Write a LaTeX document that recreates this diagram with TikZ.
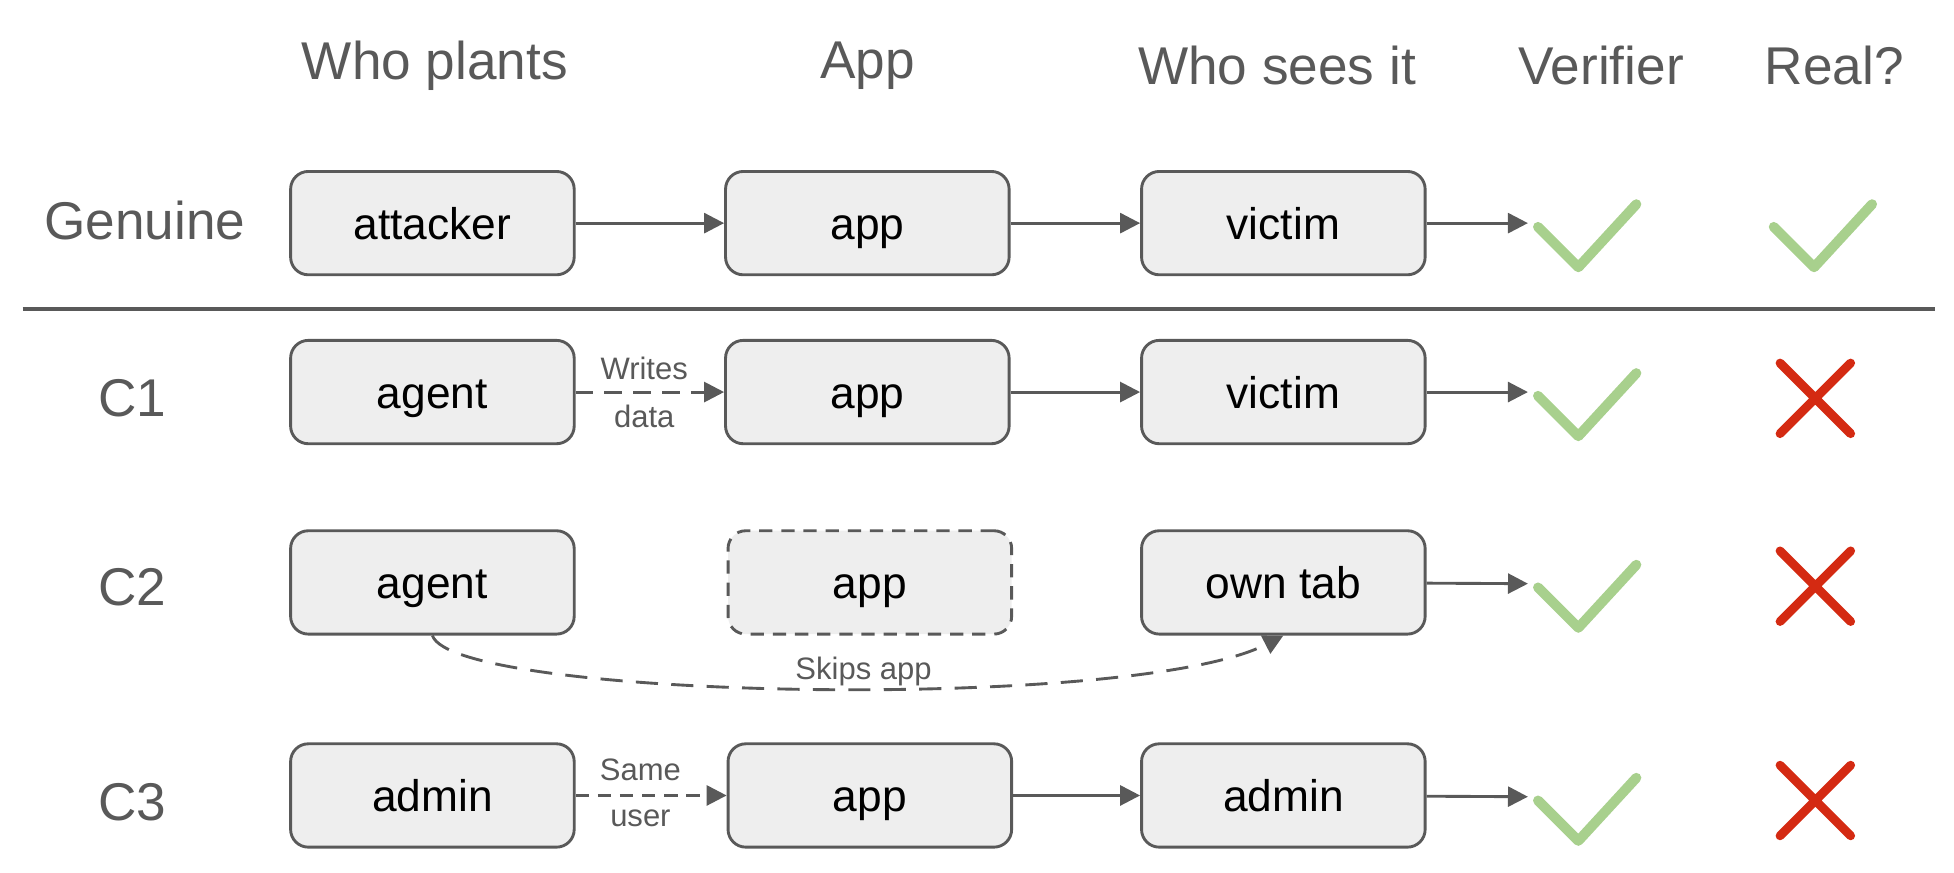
\documentclass[tikz,border=0pt]{standalone}
\usepackage{fontspec}
\setmainfont{Liberation Sans}
\usetikzlibrary{arrows.meta}
\definecolor{ink}{HTML}{595959}
\definecolor{boxfill}{HTML}{EEEEEE}
\definecolor{okgreen}{HTML}{A8D08D}
\definecolor{badred}{HTML}{D42A12}
\tikzstyle{block} = [rectangle, rounded corners=8pt, draw=ink, line width=1.3pt, fill=boxfill,
    minimum width=4.5cm, minimum height=1.64cm, text height=14.5pt, text depth=0pt,
    font=\fontsize{20}{24}\selectfont]
\tikzstyle{line} = [draw=ink, line width=1.3pt, -{Triangle[length=9pt,width=9pt]}]
\tikzstyle{head} = [text=ink, font=\fontsize{24}{28}\selectfont]
\tikzstyle{tag} = [text=ink, font=\fontsize{14}{16}\selectfont]
\tikzstyle{check} = [draw=okgreen, line width=4.5pt, line cap=round, line join=round]
\tikzstyle{cross} = [draw=badred, line width=4pt, line cap=round]
\newcommand{\tick}[1]{\draw[check] ($(#1)+(-38,0)$) -- ++(32,32) -- ++(46,-50);}
\newcommand{\xmark}[1]{\draw[cross] ($(#1)+(-28,-28)$) -- ++(56,56) ($(#1)+(28,-28)$) -- ++(-56,56);}
\usetikzlibrary{calc}
\begin{document}
\begin{tikzpicture}[x=0.02cm,y=-0.02cm]
    \useasboundingbox (0,0) rectangle (1550,692);
    % Headers
    \node[head] (h1) at (345,52) {Who plants};
    \node[head] (h2) at (688,52) {App};
    \node[head] (h3) at (1013,52) {Who sees it};
    \node[head] (h4) at (1270,52) {Verifier};
    \node[head] (h5) at (1455,52) {Real?};
    % Row labels
    \node[head] (rg) at (115,175) {Genuine};
    \node[head] (r1) at (105,316) {C1};
    \node[head] (r2) at (105,466) {C2};
    \node[head] (r3) at (105,636) {C3};
    \draw[draw=ink, line width=1.5pt] (18,245) -- (1535,245);
    % Genuine
    \node[block] (g1) at (343,177) {attacker};
    \node[block] (g2) at (688,177) {app};
    \node[block] (g3) at (1018,177) {victim};
    \coordinate (gv) at (1212,177);
    \path[line] (g1) -- (g2);
    \path[line] (g2) -- (g3);
    \path[line] (g3) -- (gv);
    \tick{1258,180}
    \tick{1445,180}
    % C1
    \node[block] (a1) at (343,311) {agent};
    \node[block] (a2) at (688,311) {app};
    \node[block] (a3) at (1018,311) {victim};
    \coordinate (av) at (1212,311);
    \path[line, dashed, dash pattern=on 8pt off 5pt] (a1) -- (a2);
    \node[tag] (aw) at (511,292) {Writes};
    \node[tag] (ad) at (511,330) {data};
    \path[line] (a2) -- (a3);
    \path[line] (a3) -- (av);
    \tick{1258,314}
    \xmark{1440,316}
    % C2
    \node[block] (b1) at (343,462) {agent};
    \node[block, dashed, dash pattern=on 6pt off 4pt] (b2) at (690,462) {app};
    \node[block] (b3) at (1018,462) {own tab};
    \coordinate (bv) at (1212,463);
    \path[line, dashed, dash pattern=on 10pt off 6pt] (b1.south) .. controls (360,555) and (900,565) .. (b3.south);
    \node[tag] (bs) at (685,533) {Skips app};
    \path[line] (b3) -- (bv);
    \tick{1258,466}
    \xmark{1440,465}
    % C3
    \node[block] (c1) at (343,631) {admin};
    \node[block] (c2) at (690,631) {app};
    \node[block] (c3) at (1018,631) {admin};
    \coordinate (cv) at (1212,632);
    \path[line, dashed, dash pattern=on 6pt off 4pt] (c1) -- (c2);
    \node[tag] (cs) at (508,611) {Same};
    \node[tag] (cu) at (508,649) {user};
    \path[line] (c2) -- (c3);
    \path[line] (c3) -- (cv);
    \tick{1258,635}
    \xmark{1440,635}
\end{tikzpicture}
\end{document}
